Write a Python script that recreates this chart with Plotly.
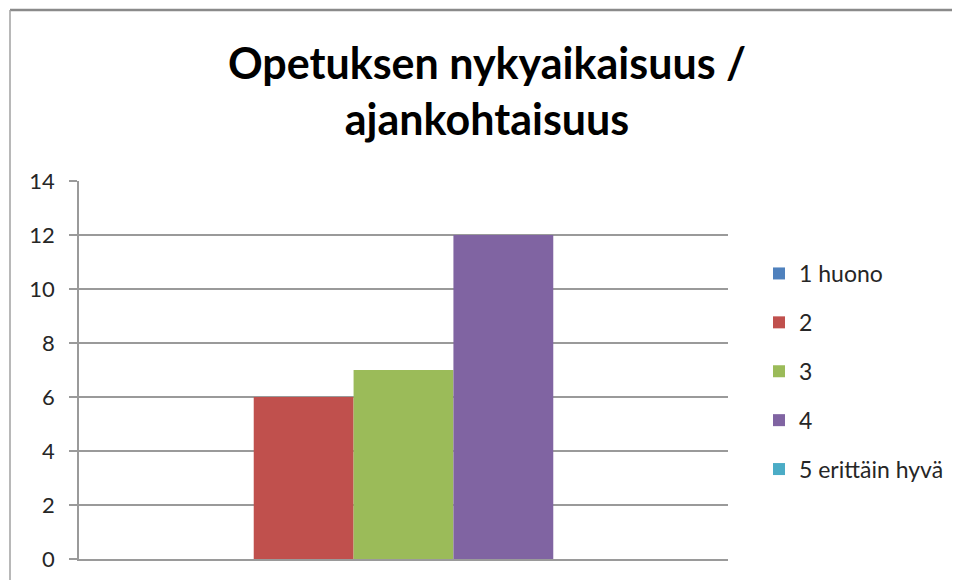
import plotly.graph_objects as go

categories = ["Opetuksen nykyaikaisuus / ajankohtaisuus"]
series_names = ["1 huono", "2", "3", "4", "5 erittäin hyvä"]
series_values = [0, 6, 7, 12, 0]
series_colors = ["#4F81BD", "#C0504D", "#9BBB59", "#8064A2", "#4BACC6"]
y_ticks = [0, 2, 4, 6, 8, 10, 12, 14]

W, H = 960, 580
OFF = 8  # page body margin offset
L, R, T, B = 79 - OFF, 728 - OFF, 181 - OFF, 559 - OFF

fig = go.Figure()
for i, (name, val, col) in enumerate(zip(series_names, series_values, series_colors)):
    fig.add_trace(go.Bar(
        x=categories, y=[val], name=name,
        marker=dict(color=col, line=dict(width=0)),
        legendgroup=f"g{i}",
    ))

grid = "#9a9a9a"
font_fam = "Lato, Carlito, 'Open Sans', sans-serif"

fig.update_layout(
    width=W, height=H,
    margin=dict(l=L, r=W - R, t=T, b=H - B, pad=0),
    paper_bgcolor="white", plot_bgcolor="white",
    barmode="group", bargap=150 / 650, bargroupgap=0,
    font=dict(family=font_fam, size=22, color="#262626"),
    title=dict(
        text="Opetuksen nykyaikaisuus /<br>ajankohtaisuus",
        font=dict(family=font_fam, size=43, color="black", weight=700),
        xref="container", x=(487 - OFF) / W, xanchor="center",
        yref="container", y=1 - 71 / H, yanchor="top",
    ),
    xaxis=dict(showticklabels=False, showgrid=False, ticks="",
               showline=True, linecolor=grid, linewidth=1.5, zeroline=False),
    yaxis=dict(range=[0, 14], tickvals=y_ticks, ticktext=[str(v) for v in y_ticks],
               showgrid=True, gridcolor=grid, gridwidth=1.5,
               showline=True, linecolor=grid, linewidth=1.5,
               ticks="outside", ticklen=8, tickcolor=grid, tickwidth=1.5,
               zeroline=False, ticklabelstandoff=10,
               tickfont=dict(size=22, color="#262626")),
    legend=dict(
        x=(759 - OFF - L) / (R - L), xanchor="left",
        y=(B - (252 - OFF)) / (B - T), yanchor="top",
        font=dict(size=23, color="#262626"),
        tracegroupgap=16, traceorder="grouped",
        bgcolor="rgba(0,0,0,0)",
    ),
    showlegend=True,
)

pw, ph = R - L, B - T
def px_x(p): return (p - OFF - L) / pw
def px_y(p): return (B - (p - OFF)) / ph

fig.add_shape(type="line", xref="paper", yref="paper",
              x0=px_x(10), x1=px_x(990), y0=px_y(10), y1=px_y(10),
              line=dict(color="#8a8a8a", width=2.5))
fig.add_shape(type="line", xref="paper", yref="paper",
              x0=px_x(10), x1=px_x(10), y0=px_y(10), y1=px_y(610),
              line=dict(color="#a0a0a0", width=1.5))

fig.write_html("out.html")
